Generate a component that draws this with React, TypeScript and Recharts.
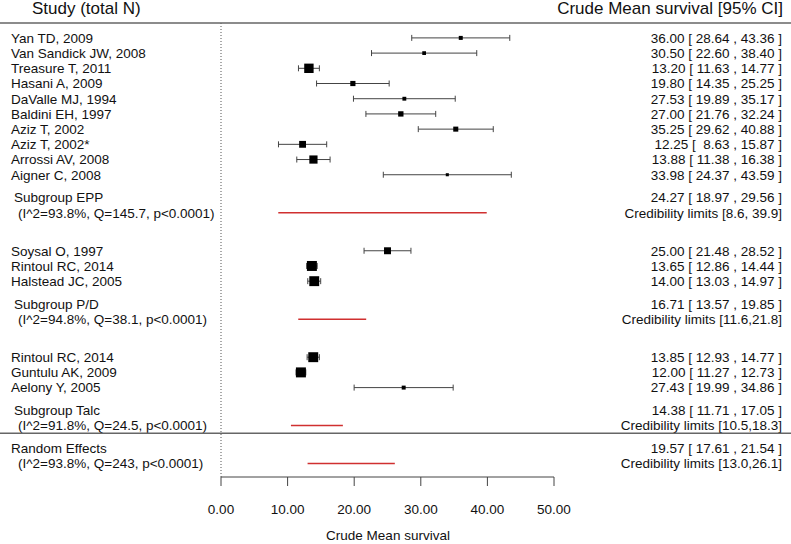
import React from "react";
import {
  ScatterChart,
  Scatter,
  XAxis,
  YAxis,
  ErrorBar,
  ReferenceLine,
} from "recharts";

const FONT = "'Liberation Sans', Arial, Helvetica, sans-serif";

// Subgroup EPP
const eppStudies = [
  "Yan TD, 2009",
  "Van Sandick JW, 2008",
  "Treasure T, 2011",
  "Hasani A, 2009",
  "DaValle MJ, 1994",
  "Baldini EH, 1997",
  "Aziz T, 2002",
  "Aziz T, 2002*",
  "Arrossi AV, 2008",
  "Aigner C, 2008",
];
const eppMean = [36.0, 30.5, 13.2, 19.8, 27.53, 27.0, 35.25, 12.25, 13.88, 33.98];
const eppLower = [28.64, 22.6, 11.63, 14.35, 19.89, 21.76, 29.62, 8.63, 11.38, 24.37];
const eppUpper = [43.36, 38.4, 14.77, 25.25, 35.17, 32.24, 40.88, 15.87, 16.38, 43.59];

// Subgroup P/D
const pdStudies = ["Soysal O, 1997", "Rintoul RC, 2014", "Halstead JC, 2005"];
const pdMean = [25.0, 13.65, 14.0];
const pdLower = [21.48, 12.86, 13.03];
const pdUpper = [28.52, 14.44, 14.97];

// Subgroup Talc
const talcStudies = ["Rintoul RC, 2014", "Guntulu AK, 2009", "Aelony Y, 2005"];
const talcMean = [13.85, 12.0, 27.43];
const talcLower = [12.93, 11.27, 19.99];
const talcUpper = [14.77, 12.73, 34.86];

// pooled estimates: EPP, P/D, Talc, overall
const summaryNames = ["Subgroup EPP", "Subgroup P/D", "Subgroup Talc", "Random Effects"];
const summaryMean = [24.27, 16.71, 14.38, 19.57];
const summaryLower = [18.97, 13.57, 11.71, 17.61];
const summaryUpper = [29.56, 19.85, 17.05, 21.54];
const heterogeneity = [
  "(I^2=93.8%, Q=145.7, p<0.0001)",
  "(I^2=94.8%, Q=38.1, p<0.0001)",
  "(I^2=91.8%, Q=24.5, p<0.0001)",
  "(I^2=93.8%, Q=243, p<0.0001)",
];
const credLower = [8.6, 11.6, 10.5, 13.0];
const credUpper = [39.9, 21.8, 18.3, 26.1];
const credLabels = [
  "Credibility limits [8.6, 39.9]",
  "Credibility limits [11.6,21.8]",
  "Credibility limits [10.5,18.3]",
  "Credibility limits [13.0,26.1]",
];

const xTicks = [0, 10, 20, 30, 40, 50];

const W = 791;
const H = 544;
const TOP = 23;
const BOTTOM = 477;
const LEFT_W = 221;
const RIGHT_W = 237;
const Y_DOMAIN: [number, number] = [-0.98, 28.88];

const rowToPx = (r: number) =>
  TOP + ((r - Y_DOMAIN[0]) / (Y_DOMAIN[1] - Y_DOMAIN[0])) * (BOTTOM - TOP);

const fmt = (v: number) => v.toFixed(2).padStart(5, " ");
const fmtCI = (m: number, lo: number, hi: number) =>
  `${m.toFixed(2)} [ ${fmt(lo)} , ${fmt(hi)} ]`;

type Point = { x: number; y: number; lo: number; hi: number; err: number[] };
type TextRow = { y: number; left: string; indent: number; right: string };

const groups = [
  { names: eppStudies, mean: eppMean, lo: eppLower, hi: eppUpper },
  { names: pdStudies, mean: pdMean, lo: pdLower, hi: pdUpper },
  { names: talcStudies, mean: talcMean, lo: talcLower, hi: talcUpper },
];

const points: Point[] = [];
const textRows: TextRow[] = [];
const credLines: { y: number; lo: number; hi: number }[] = [];
let row = 0;
let last = 0;
groups.forEach((g, gi) => {
  g.names.forEach((name, i) => {
    points.push({
      x: g.mean[i],
      y: row,
      lo: g.lo[i],
      hi: g.hi[i],
      err: [g.mean[i] - g.lo[i], g.hi[i] - g.mean[i]],
    });
    textRows.push({ y: row, left: name, indent: 11, right: fmtCI(g.mean[i], g.lo[i], g.hi[i]) });
    row += 1;
  });
  last = row - 1;
  textRows.push({
    y: last + 1.5,
    left: summaryNames[gi],
    indent: 14,
    right: fmtCI(summaryMean[gi], summaryLower[gi], summaryUpper[gi]),
  });
  textRows.push({ y: last + 2.5, left: heterogeneity[gi], indent: 18, right: credLabels[gi] });
  credLines.push({ y: last + 2.5, lo: credLower[gi], hi: credUpper[gi] });
  row = last + 5;
});
const separatorRow = last + 3;
textRows.push({
  y: last + 4,
  left: summaryNames[3],
  indent: 11,
  right: fmtCI(summaryMean[3], summaryLower[3], summaryUpper[3]),
});
textRows.push({ y: last + 5, left: heterogeneity[3], indent: 18, right: credLabels[3] });
credLines.push({ y: last + 5, lo: credLower[3], hi: credUpper[3] });

const rowTicks = textRows.map((t) => t.y);
const findRow = (v: number) =>
  textRows.reduce((best, t) => (Math.abs(t.y - v) < Math.abs(best.y - v) ? t : best), textRows[0]);

// box size grows with precision (1/SE), saturating for the big studies
const boxSize = (lo: number, hi: number) => {
  const prec = 3.92 / (hi - lo);
  return Math.max(3, 3 + 7 * (1 - Math.exp(-2.33 * (prec - 0.2))));
};

const LeftTick = (props: any) => {
  const t = findRow(props.payload.value);
  return (
    <text x={t.indent} y={props.y} dy="0.36em" fontSize={13.5} fontFamily={FONT} fill="#111" xmlSpace="preserve">
      {t.left}
    </text>
  );
};

const RightTick = (props: any) => {
  const t = findRow(props.payload.value);
  return (
    <text x={782} y={props.y} dy="0.36em" textAnchor="end" fontSize={13.5} fontFamily={FONT} fill="#111" xmlSpace="preserve">
      {t.right}
    </text>
  );
};

const Box = (props: any) => {
  const { cx, cy, payload } = props;
  const s = boxSize(payload.lo, payload.hi);
  return <rect x={cx - s / 2} y={cy - s / 2} width={s} height={s} fill="#000" />;
};

export default function App() {
  const sepY = rowToPx(separatorRow);
  return (
    <div style={{ position: "absolute", left: 0, top: 0, width: W, height: H, background: "#fff" }}>
      <ScatterChart width={W} height={H} margin={{ top: TOP, right: 0, bottom: 0, left: 0 }}>
        <XAxis
          type="number"
          dataKey="x"
          domain={[0, 50]}
          ticks={xTicks}
          tickFormatter={(v: number) => v.toFixed(2)}
          height={H - BOTTOM}
          tickSize={9}
          tickMargin={18}
          stroke="#444"
          tick={{ fill: "#111", fontSize: 13.5, fontFamily: FONT }}
        />
        <YAxis
          yAxisId="left"
          type="number"
          dataKey="y"
          domain={Y_DOMAIN}
          allowDataOverflow
          reversed
          width={LEFT_W}
          ticks={rowTicks}
          interval={0}
          tick={<LeftTick />}
          axisLine={false}
          tickLine={false}
        />
        <YAxis
          yAxisId="right"
          orientation="right"
          type="number"
          dataKey="y"
          domain={Y_DOMAIN}
          allowDataOverflow
          reversed
          width={RIGHT_W}
          ticks={rowTicks}
          interval={0}
          tick={<RightTick />}
          axisLine={false}
          tickLine={false}
        />
        <ReferenceLine yAxisId="left" x={0} stroke="#555" strokeDasharray="1 2" />
        {credLines.map((c, i) => (
          <ReferenceLine
            key={i}
            yAxisId="left"
            segment={[
              { x: c.lo, y: c.y },
              { x: c.hi, y: c.y },
            ]}
            stroke="#d03030"
            strokeWidth={1.5}
          />
        ))}
        <Scatter yAxisId="left" data={points} shape={<Box />} isAnimationActive={false}>
          <ErrorBar dataKey="err" direction="x" width={3} stroke="#444" strokeWidth={1} />
        </Scatter>
      </ScatterChart>
      <svg
        width={W}
        height={H}
        style={{ position: "absolute", left: 0, top: 0, pointerEvents: "none" }}
      >
        <text x={32} y={14} fontSize={17} fontFamily={FONT} fill="#111">
          Study (total N)
        </text>
        <text x={783} y={14} fontSize={17} fontFamily={FONT} fill="#111" textAnchor="end">
          Crude Mean survival [95% CI]
        </text>
        <line x1={0} x2={W} y1={TOP} y2={TOP} stroke="#666" strokeWidth={1.5} />
        <line x1={0} x2={W} y1={sepY} y2={sepY} stroke="#666" strokeWidth={1.5} />
        <text x={388} y={540} fontSize={13.5} fontFamily={FONT} fill="#111" textAnchor="middle">
          Crude Mean survival
        </text>
      </svg>
    </div>
  );
}
